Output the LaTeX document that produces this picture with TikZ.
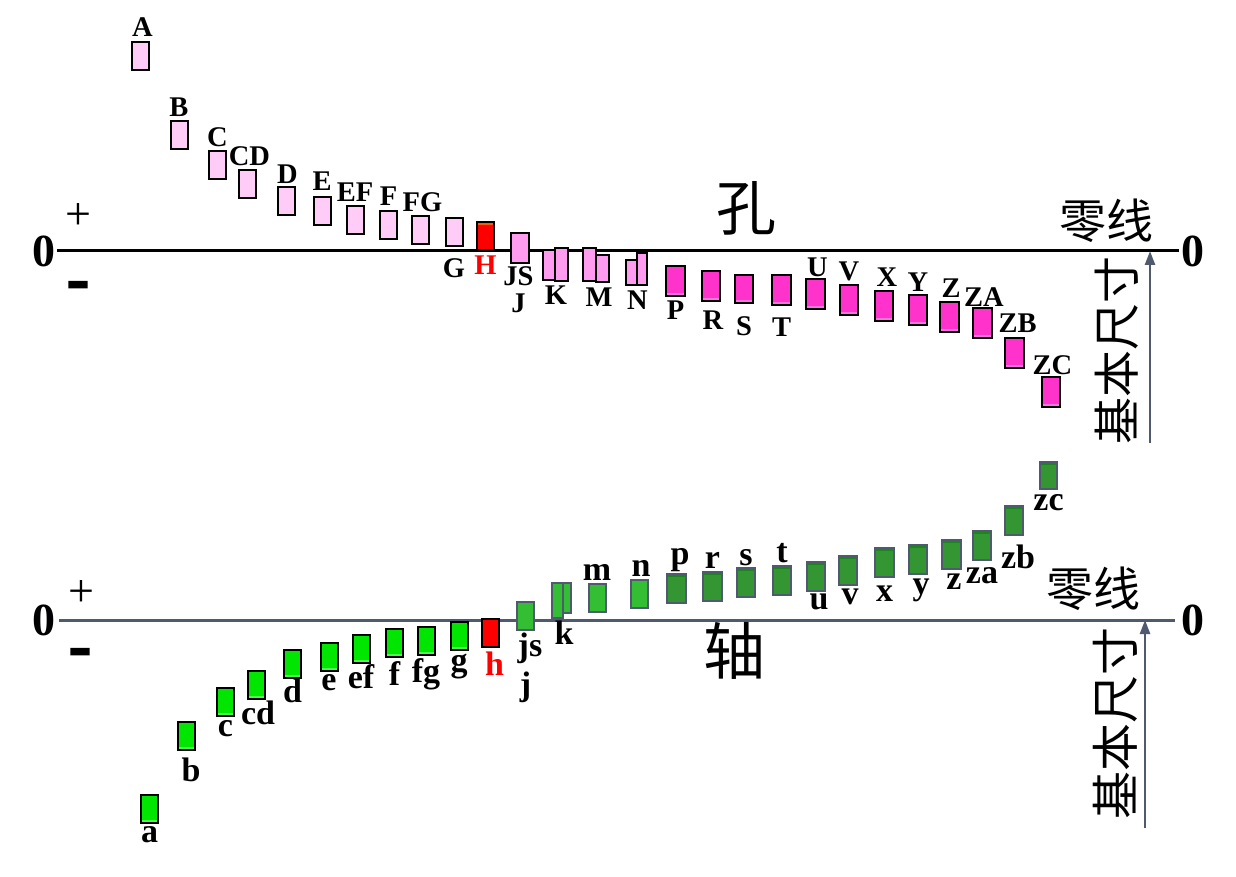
\documentclass[tikz,border=0pt]{standalone}
\usepackage{fontspec}
\setmainfont{Liberation Serif}
\newfontfamily\cjk{Noto Sans CJK SC}
\newfontfamily\heavyfont{Liberation Serif}[FakeBold=3]
\usetikzlibrary{positioning, arrows.meta}
\definecolor{holepale}{RGB}{255,204,247}
\definecolor{holepink}{RGB}{255,156,240}
\definecolor{holemag}{RGB}{255,51,204}
\definecolor{holemagedge}{RGB}{255,115,222}
\definecolor{shaftlime}{RGB}{0,230,0}
\definecolor{shaftlimeedge}{RGB}{70,255,70}
\definecolor{shaftmid}{RGB}{51,190,51}
\definecolor{shaftdark}{RGB}{51,150,51}
\definecolor{shaftdarkedge}{RGB}{25,135,25}
\definecolor{slate}{RGB}{80,90,110}
\definecolor{basered}{RGB}{255,0,0}
\tikzset{
    devbox/.style = {draw, rectangle, line width=2pt, inner sep=0pt, minimum width=17pt, minimum height=28pt},
    botedge/.style = {path picture={\fill[#1] (path picture bounding box.south west) rectangle ([yshift=3pt]path picture bounding box.south east);}},
    topedge/.style = {path picture={\fill[#1] (path picture bounding box.north west) rectangle ([yshift=-3pt]path picture bounding box.north east);}},
    holeA/.style = {devbox, fill=holepale},
    holeB/.style = {devbox, fill=holepink, minimum width=13pt, minimum height=33pt},
    holeC/.style = {devbox, fill=holemag, minimum width=18.5pt, minimum height=30pt, botedge=holemagedge},
    baseH/.style = {devbox, fill=basered, topedge=orange!70!red},
    shaftA/.style = {devbox, fill=shaftlime, botedge=shaftlimeedge},
    shaftB/.style = {devbox, draw=slate, fill=shaftmid},
    shaftC/.style = {devbox, draw=slate, fill=shaftdark, minimum width=18.5pt, minimum height=29pt, topedge=shaftdarkedge},
    uplabel/.style = {font=\fontsize{28.5}{28.5}\selectfont\bfseries, inner sep=0pt},
    lowlabel/.style = {font=\fontsize{34}{34}\selectfont\bfseries, inner sep=0pt},
    zeronode/.style = {font=\fontsize{46}{46}\selectfont\bfseries, inner sep=2pt},
    signnode/.style = {font=\fontsize{46}{46}\selectfont, inner sep=0pt},
    minusnode/.style = {font=\heavyfont\fontsize{66}{66}\selectfont\bfseries, inner sep=0pt},
    hannode/.style = {font=\cjk\fontsize{47}{47}\selectfont, inner sep=0pt},
    zeroline/.style = {line width=3pt},
    sizearrow/.style = {slate, line width=2.5pt, -{Triangle[length=14pt, width=10pt]}}
}

\begin{document}
\begin{tikzpicture}[x=1pt, y=-1pt, label distance=3pt]
    \useasboundingbox (0,0) rectangle (1236,877);

    % hole (upper) axis
    \node [name = zeroTL, zeronode] at (43.5,251) {0};
    \node [name = zeroTR, zeronode] at (1192.5,251) {0};
    \node [name = plusT, signnode] at (78.5,217) {+};
    \node [name = minusT, minusnode] at (78,291) {-};
    \draw [zeroline] (zeroTL.east) -- (zeroTR.west);
    \node [name = kong, hannode, font=\cjk\fontsize{60}{60}\selectfont] at (746,208) {孔};
    \node [name = zeroTxtT, hannode] at (1106,221) {零线};
    \node [name = sizeT, hannode, rotate=90] at (1117,350) {基本尺寸};
    \coordinate (footT) at (1150,443);
    \draw [sizearrow] (footT) -- (footT |- zeroTL.east);

    \node [name = bxA, holeA, label={[name=lA, uplabel, xshift=2pt, yshift=1pt]above:A}] at (140.5,56) {};
    \node [name = bxB, holeA, label={[name=lB, uplabel]above:B}] at (179,135) {};
    \node [name = bxC, holeA, label={[name=lC, uplabel]above:C}] at (217.5,165) {};
    \node [name = bxCD, holeA, label={[name=lCD, uplabel, xshift=2pt]above:CD}] at (247.5,184) {};
    \node [name = bxD, holeA, label={[name=lD, uplabel, xshift=1.5pt]above:D}] at (286,201.5) {};
    \node [name = bxE, holeA, label={[name=lE, uplabel, yshift=2pt]above:E}] at (322,211) {};
    \node [name = bxEF, holeA, label={[name=lEF, uplabel]above:EF}] at (355,220) {};
    \node [name = bxF, holeA, label={[name=lF, uplabel, yshift=1pt]above:F}] at (388.5,225) {};
    \node [name = bxFG, holeA, label={[name=lFG, uplabel, xshift=2.5pt]above:FG}] at (420,230) {};
    \node [name = bxG, holeA, label={[name=lG, uplabel, yshift=-8pt]below:G}] at (454,232.5) {};
    \node [name = bxH, baseH, label={[name=lH, uplabel, text=basered, yshift=-2pt]below:H}] at (485.5,236) {};
    \node [name = bxJS, holeB, minimum width=18pt, minimum height=30pt, label={[name=lJS, uplabel, xshift=-1.5pt, yshift=1pt]below:JS}] at (520,248) {};
    \node [name = lJ, uplabel, below = 8pt of lJS] {J};
    \node [name = bxKa, holeB, minimum height=30pt, label={[name=lK, uplabel, xshift=6.5pt, yshift=-2pt]below:K}] at (549.5,265) {};
    \node [name = bxKb, holeB] at (561.5,264.5) {};
    \node [name = bxMa, holeB] at (589.5,264.5) {};
    \node [name = bxMb, holeB, minimum height=27pt, label={[name=lM, uplabel, xshift=-3.5pt, yshift=-2pt]below:M}] at (602.5,268.5) {};
    \node [name = bxNa, holeB, minimum width=11pt, minimum height=25pt, label={[name=lN, uplabel, xshift=6pt, yshift=-2pt]below:N}] at (631.5,272.5) {};
    \node [name = bxNb, holeB, minimum width=10pt, minimum height=32pt] at (642,269) {};
    \node [name = bxP, holeC, label={[name=lP, uplabel, yshift=-1pt]below:P}] at (675.5,281) {};
    \node [name = bxR, holeC, label={[name=lR, uplabel, xshift=2pt, yshift=-6pt]below:R}] at (711,286) {};
    \node [name = bxS, holeC, minimum height=28pt, label={[name=lS, uplabel, yshift=-9pt]below:S}] at (744,289) {};
    \node [name = bxT, holeC, label={[name=lT, uplabel, yshift=-9pt]below:T}] at (781.5,290) {};
    \node [name = bxU, holeC, label={[name=lU, uplabel, xshift=2pt, yshift=-2pt]above:U}] at (815.5,294) {};
    \node [name = bxV, holeC, label={[name=lV, uplabel]above:V}] at (849,300) {};
    \node [name = bxX, holeC, label={[name=lX, uplabel, xshift=3pt]above:X}] at (884,306) {};
    \node [name = bxY, holeC, label={[name=lY, uplabel, yshift=-1pt]above:Y}] at (918,310) {};
    \node [name = bxZ, holeC, label={[name=lZ, uplabel, xshift=1.5pt]above:Z}] at (949.5,316.5) {};
    \node [name = bxZA, holeC, label={[name=lZA, uplabel, xshift=1.5pt, yshift=-3pt]above:ZA}] at (982.5,323) {};
    \node [name = bxZB, holeC, label={[name=lZB, uplabel, xshift=3pt, yshift=1pt]above:ZB}] at (1014.5,352.5) {};
    \node [name = bxZC, holeC, label={[name=lZC, uplabel, xshift=1.5pt, yshift=-2pt]above:ZC}] at (1051,391.5) {};

    % shaft (lower) axis
    \node [name = zeroBL, zeronode, inner xsep=4pt] at (43.5,620) {0};
    \node [name = zeroBR, zeronode, inner xsep=6pt] at (1193,620) {0};
    \node [name = plusB, signnode] at (81.5,593.5) {+};
    \node [name = minusB, minusnode] at (80,658) {-};
    \draw [zeroline, slate] (zeroBL.east) -- (zeroBR.west);
    \node [name = zhou, hannode, font=\cjk\fontsize{62}{62}\selectfont] at (734,651) {轴};
    \node [name = zeroTxtB, hannode] at (1093,589) {零线};
    \node [name = sizeB, hannode, rotate=90, font=\cjk\fontsize{48}{48}\selectfont] at (1115,723) {基本尺寸};
    \coordinate (footB) at (1145,828);
    \draw [sizearrow] (footB) -- (footB |- zeroBL.east);

    \node [name = bxa, shaftA, label={[name=la, lowlabel, yshift=1pt]below:a}] at (149.5,809) {};
    \node [name = bxb, shaftA, label={[name=lb, lowlabel, xshift=5pt, yshift=-4pt]below:b}] at (186,736) {};
    \node [name = bxc, shaftA, label={[name=lc, lowlabel, yshift=-1pt]below:c}] at (225.5,701.5) {};
    \node [name = bxcd, shaftA, label={[name=lcd, lowlabel, xshift=1.5pt, yshift=2pt]below:cd}] at (256.5,684.5) {};
    \node [name = bxd, shaftA, label={[name=ld, lowlabel, yshift=3pt]below:d}] at (292.5,664) {};
    \node [name = bxe, shaftA, label={[name=le, lowlabel]below:e}] at (329,656.5) {};
    \node [name = bxef, shaftA, label={[name=lef, lowlabel, yshift=2pt]below:ef}] at (361,648.5) {};
    \node [name = bxf, shaftA, label={[name=lf, lowlabel]below:f}] at (394.5,643) {};
    \node [name = bxfg, shaftA, label={[name=lfg, lowlabel, yshift=1pt]below:fg}] at (426,641) {};
    \node [name = bxg, shaftA, label={[name=lg, lowlabel]below:g}] at (459,636) {};
    \node [name = bxh, baseH, topedge=basered, label={[name=lh, lowlabel, text=basered, xshift=4.5pt, yshift=-1pt]below:h}] at (490,632.5) {};
    \node [name = bxjs, shaftB, label={[name=ljs, lowlabel, xshift=5pt, yshift=1pt]below:js}] at (525,616) {};
    \node [name = lj, lowlabel, below = 7pt of ljs, xshift=-4.5pt] {j};
    \node [name = bxka, shaftB, minimum width=11pt, minimum height=35pt, label={[name=lk, lowlabel, xshift=6.5pt, yshift=1pt]below:k}] at (557.5,600.5) {};
    \node [name = bxkb, shaftB, minimum width=8pt, minimum height=30pt] at (567,598) {};
    \node [name = bxm, shaftB, label={[name=lm, lowlabel, yshift=-1pt]above:m}] at (597,598) {};
    \node [name = bxn, shaftB, label={[name=ln, lowlabel, xshift=2pt, yshift=-1pt]above:n}] at (639,594) {};
    \node [name = bxp, shaftC, label={[name=lp, lowlabel, xshift=3.5pt, yshift=-2pt]above:p}] at (676.5,588.5) {};
    \node [name = bxr, shaftC, label={[name=lr, lowlabel, yshift=-1pt]above:r}] at (712.5,586.5) {};
    \node [name = bxs, shaftC, label={[name=ls, lowlabel, yshift=-2pt]above:s}] at (746,582.5) {};
    \node [name = bxt, shaftC, label={[name=lt, lowlabel, yshift=-2pt]above:t}] at (782,580) {};
    \node [name = bxu, shaftC, label={[name=lu, lowlabel, xshift=3pt, yshift=1pt]below:u}] at (816,576.5) {};
    \node [name = bxv, shaftC, label={[name=lv, lowlabel, xshift=2pt]below:v}] at (848,570) {};
    \node [name = bxx, shaftC, label={[name=lx, lowlabel, yshift=-5pt]below:x}] at (884.5,562.5) {};
    \node [name = bxy, shaftC, label={[name=ly, lowlabel, xshift=3pt, yshift=-1pt]below:y}] at (918,559) {};
    \node [name = bxz, shaftC, label={[name=lz, lowlabel, xshift=2.5pt, yshift=-1pt]below:z}] at (951.5,554) {};
    \node [name = bxza, shaftC, label={[name=lza, lowlabel, yshift=-3pt]below:za}] at (982,545.5) {};
    \node [name = bxzb, shaftC, label={[name=lzb, lowlabel, xshift=4pt, yshift=-6pt]below:zb}] at (1014,520) {};
    \node [name = bxzc, shaftC, minimum width=17pt, minimum height=27pt, label={[name=lzc, lowlabel, yshift=-1pt]below:zc}] at (1048.5,475.5) {};
\end{tikzpicture}
\end{document}
